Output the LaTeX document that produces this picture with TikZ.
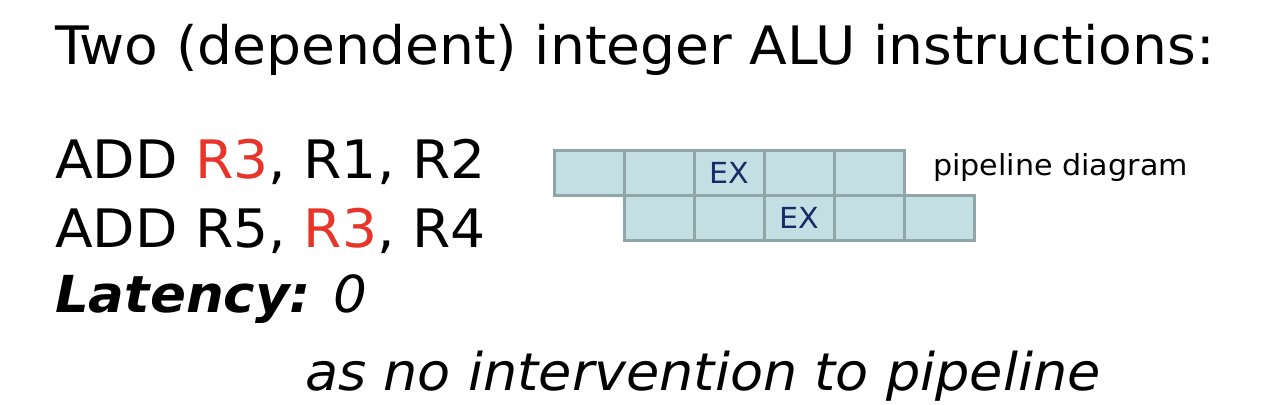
\documentclass[tikz,border=0pt]{standalone}
\usepackage{fontspec}
\setmainfont[FakeStretch=1.04]{DejaVu Sans}
\definecolor{regred}{HTML}{E8352A}
\definecolor{cellfill}{HTML}{C3DFE3}
\definecolor{celldraw}{HTML}{8FA5A8}
\definecolor{exblue}{HTML}{1A2A66}
\tikzset{
  cell/.style={draw=celldraw, fill=cellfill, line width=3pt, minimum width=70pt, minimum height=45pt, inner sep=0pt, font=\fontsize{29}{32}\selectfont, text=exblue},
  bigtext/.style={anchor=base west, inner sep=0pt, font=\fontsize{53}{60}\selectfont},
}
\begin{document}
\begin{tikzpicture}[x=1pt,y=-1pt]
\useasboundingbox (0,0) rectangle (1276,404);
\node[bigtext] (title) at (55,65) {Two (dependent) integer ALU instructions:};
\node[bigtext] (i1) at (55,178) {ADD \textcolor{regred}{R3}, R1, R2};
\node[bigtext] (i2) at (55,247) {ADD R5, \textcolor{regred}{R3}, R4};
\node[bigtext, font=\fontsize{51}{60}\selectfont] (lat) at (55,312) {\textbf{\textit{Latency:}}\textit{ 0}};
\node[bigtext, font=\fontsize{52}{60}\selectfont] (why) at (305,390) {\textit{as no intervention to pipeline}};
% pipeline row 1
\foreach \i/\t in {0/,1/,2/EX,3/,4/} {
  \node[cell] (a\i) at (589+70*\i,172.5) {\t};
}
\foreach \i/\t in {0/,1/,2/EX,3/,4/} {
  \node[cell] (b\i) at (659+70*\i,217.5) {\t};
}
\node[anchor=base west, inner sep=0pt, font=\fontsize{29}{32}\selectfont] (lbl) at (933,175) {pipeline diagram};
\end{tikzpicture}
\end{document}
